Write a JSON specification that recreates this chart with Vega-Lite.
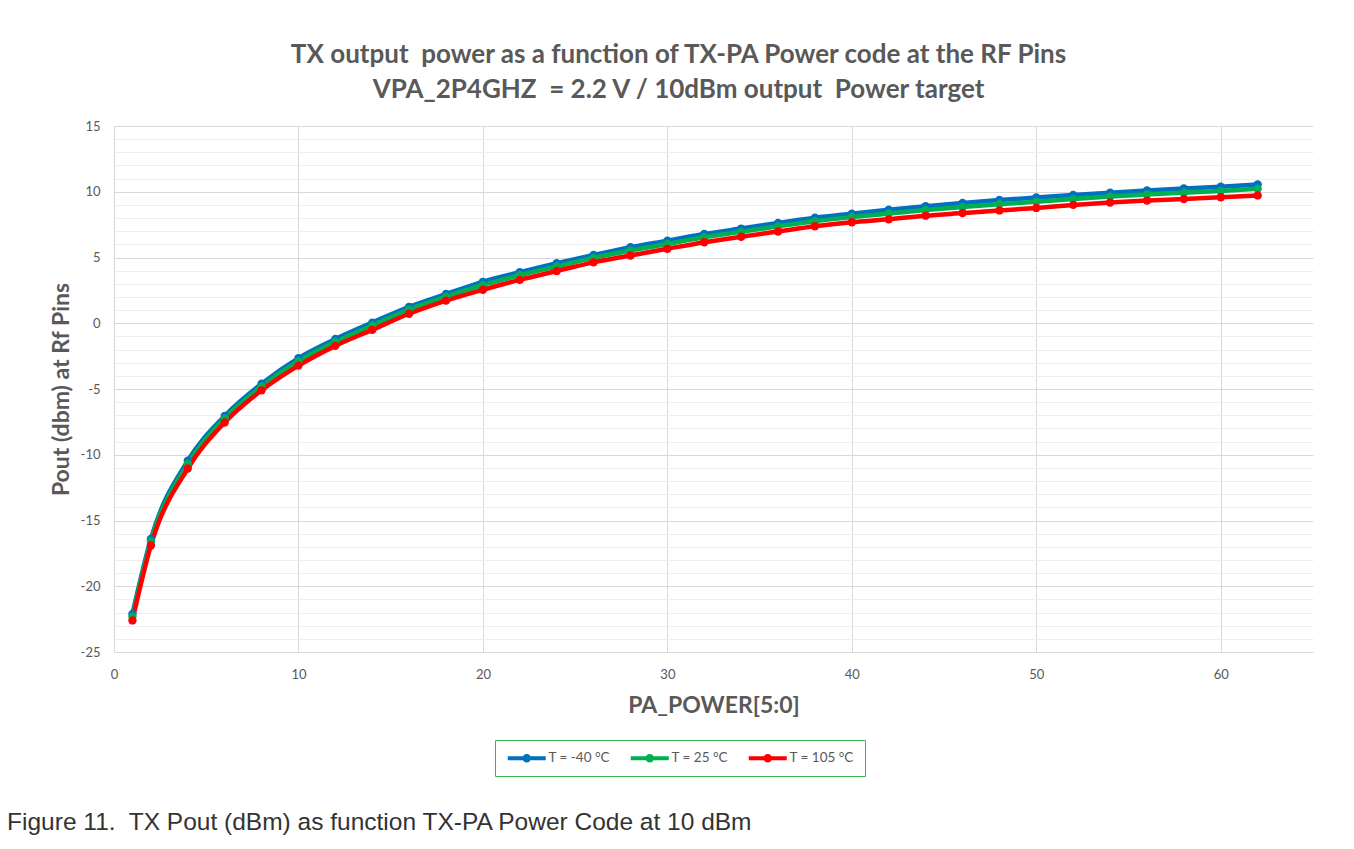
{
  "$schema": "https://vega.github.io/schema/vega-lite/v6.json",
  "background": "white",
  "padding": {"left": 7, "top": 42, "right": 42, "bottom": 14},
  "title": {
    "text": "Figure 11.\u00a0 TX Pout (dBm) as function TX-PA Power Code at 10 dBm",
    "orient": "bottom",
    "anchor": "start",
    "frame": "bounds",
    "dx": -43,
    "offset": 34,
    "font": "Liberation Sans",
    "fontSize": 24.5,
    "fontWeight": "normal",
    "color": "#333333"
  },
  "vconcat": [
    {
      "width": 1199,
      "height": 526,
      "title": {
        "text": ["TX output\u00a0 power as a function of TX-PA Power code at the RF Pins", "VPA_2P4GHZ\u00a0 = 2.2 V / 10dBm output\u00a0 Power target"],
        "anchor": "middle",
        "frame": "group",
        "dx": -35,
        "offset": 17,
        "font": "Lato",
        "fontSize": 26,
        "fontWeight": "bold",
        "color": "#595959",
        "lineHeight": 35
      },
      "data": {
        "values": [
          {"code": 1, "T": "T = -40 °C", "pout": -22.1},
          {"code": 2, "T": "T = -40 °C", "pout": -16.4},
          {"code": 4, "T": "T = -40 °C", "pout": -10.45},
          {"code": 6, "T": "T = -40 °C", "pout": -7.05},
          {"code": 8, "T": "T = -40 °C", "pout": -4.6},
          {"code": 10, "T": "T = -40 °C", "pout": -2.65},
          {"code": 12, "T": "T = -40 °C", "pout": -1.2},
          {"code": 14, "T": "T = -40 °C", "pout": 0.05},
          {"code": 16, "T": "T = -40 °C", "pout": 1.25},
          {"code": 18, "T": "T = -40 °C", "pout": 2.22},
          {"code": 20, "T": "T = -40 °C", "pout": 3.15},
          {"code": 22, "T": "T = -40 °C", "pout": 3.88},
          {"code": 24, "T": "T = -40 °C", "pout": 4.56},
          {"code": 26, "T": "T = -40 °C", "pout": 5.19},
          {"code": 28, "T": "T = -40 °C", "pout": 5.78},
          {"code": 30, "T": "T = -40 °C", "pout": 6.28},
          {"code": 32, "T": "T = -40 °C", "pout": 6.79},
          {"code": 34, "T": "T = -40 °C", "pout": 7.2},
          {"code": 36, "T": "T = -40 °C", "pout": 7.63},
          {"code": 38, "T": "T = -40 °C", "pout": 8.02},
          {"code": 40, "T": "T = -40 °C", "pout": 8.33},
          {"code": 42, "T": "T = -40 °C", "pout": 8.63},
          {"code": 44, "T": "T = -40 °C", "pout": 8.9},
          {"code": 46, "T": "T = -40 °C", "pout": 9.15},
          {"code": 48, "T": "T = -40 °C", "pout": 9.37},
          {"code": 50, "T": "T = -40 °C", "pout": 9.56},
          {"code": 52, "T": "T = -40 °C", "pout": 9.75},
          {"code": 54, "T": "T = -40 °C", "pout": 9.93},
          {"code": 56, "T": "T = -40 °C", "pout": 10.1},
          {"code": 58, "T": "T = -40 °C", "pout": 10.25},
          {"code": 60, "T": "T = -40 °C", "pout": 10.38},
          {"code": 62, "T": "T = -40 °C", "pout": 10.55},
          {"code": 1, "T": "T = 25 °C", "pout": -22.3},
          {"code": 2, "T": "T = 25 °C", "pout": -16.6},
          {"code": 4, "T": "T = 25 °C", "pout": -10.7},
          {"code": 6, "T": "T = 25 °C", "pout": -7.25},
          {"code": 8, "T": "T = 25 °C", "pout": -4.8},
          {"code": 10, "T": "T = 25 °C", "pout": -2.88},
          {"code": 12, "T": "T = 25 °C", "pout": -1.41},
          {"code": 14, "T": "T = 25 °C", "pout": -0.17},
          {"code": 16, "T": "T = 25 °C", "pout": 1.04},
          {"code": 18, "T": "T = 25 °C", "pout": 2.02},
          {"code": 20, "T": "T = 25 °C", "pout": 2.91},
          {"code": 22, "T": "T = 25 °C", "pout": 3.65},
          {"code": 24, "T": "T = 25 °C", "pout": 4.32},
          {"code": 26, "T": "T = 25 °C", "pout": 4.97},
          {"code": 28, "T": "T = 25 °C", "pout": 5.53},
          {"code": 30, "T": "T = 25 °C", "pout": 6.03},
          {"code": 32, "T": "T = 25 °C", "pout": 6.54},
          {"code": 34, "T": "T = 25 °C", "pout": 6.95},
          {"code": 36, "T": "T = 25 °C", "pout": 7.37},
          {"code": 38, "T": "T = 25 °C", "pout": 7.76},
          {"code": 40, "T": "T = 25 °C", "pout": 8.07},
          {"code": 42, "T": "T = 25 °C", "pout": 8.34},
          {"code": 44, "T": "T = 25 °C", "pout": 8.61},
          {"code": 46, "T": "T = 25 °C", "pout": 8.84},
          {"code": 48, "T": "T = 25 °C", "pout": 9.05},
          {"code": 50, "T": "T = 25 °C", "pout": 9.24},
          {"code": 52, "T": "T = 25 °C", "pout": 9.45},
          {"code": 54, "T": "T = 25 °C", "pout": 9.63},
          {"code": 56, "T": "T = 25 °C", "pout": 9.79},
          {"code": 58, "T": "T = 25 °C", "pout": 9.93},
          {"code": 60, "T": "T = 25 °C", "pout": 10.06},
          {"code": 62, "T": "T = 25 °C", "pout": 10.22},
          {"code": 1, "T": "T = 105 °C", "pout": -22.6},
          {"code": 2, "T": "T = 105 °C", "pout": -16.9},
          {"code": 4, "T": "T = 105 °C", "pout": -11.05},
          {"code": 6, "T": "T = 105 °C", "pout": -7.55},
          {"code": 8, "T": "T = 105 °C", "pout": -5.1},
          {"code": 10, "T": "T = 105 °C", "pout": -3.22},
          {"code": 12, "T": "T = 105 °C", "pout": -1.72},
          {"code": 14, "T": "T = 105 °C", "pout": -0.5},
          {"code": 16, "T": "T = 105 °C", "pout": 0.72},
          {"code": 18, "T": "T = 105 °C", "pout": 1.72},
          {"code": 20, "T": "T = 105 °C", "pout": 2.55},
          {"code": 22, "T": "T = 105 °C", "pout": 3.3},
          {"code": 24, "T": "T = 105 °C", "pout": 3.97},
          {"code": 26, "T": "T = 105 °C", "pout": 4.63},
          {"code": 28, "T": "T = 105 °C", "pout": 5.15},
          {"code": 30, "T": "T = 105 °C", "pout": 5.66},
          {"code": 32, "T": "T = 105 °C", "pout": 6.16},
          {"code": 34, "T": "T = 105 °C", "pout": 6.58},
          {"code": 36, "T": "T = 105 °C", "pout": 6.98},
          {"code": 38, "T": "T = 105 °C", "pout": 7.38},
          {"code": 40, "T": "T = 105 °C", "pout": 7.68},
          {"code": 42, "T": "T = 105 °C", "pout": 7.9},
          {"code": 44, "T": "T = 105 °C", "pout": 8.18},
          {"code": 46, "T": "T = 105 °C", "pout": 8.38},
          {"code": 48, "T": "T = 105 °C", "pout": 8.58},
          {"code": 50, "T": "T = 105 °C", "pout": 8.77},
          {"code": 52, "T": "T = 105 °C", "pout": 9.0},
          {"code": 54, "T": "T = 105 °C", "pout": 9.18},
          {"code": 56, "T": "T = 105 °C", "pout": 9.33},
          {"code": 58, "T": "T = 105 °C", "pout": 9.45},
          {"code": 60, "T": "T = 105 °C", "pout": 9.58},
          {"code": 62, "T": "T = 105 °C", "pout": 9.72}
        ]
      },
      "mark": {
        "type": "line",
        "strokeWidth": 4.5,
        "interpolate": "monotone",
        "point": {"filled": true, "size": 70, "opacity": 1}
      },
      "encoding": {
        "x": {
          "field": "code",
          "type": "quantitative",
          "scale": {"domain": [0, 65], "nice": false, "zero": false},
          "axis": {
            "values": [0, 10, 20, 30, 40, 50, 60],
            "title": "PA_POWER[5:0]",
            "grid": true,
            "gridColor": "#d9d9d9",
            "gridWidth": 1,
            "ticks": false,
            "domainColor": "#d9d9d9",
            "domainWidth": 1,
            "labelFont": "Lato",
            "labelFontSize": 13,
            "labelColor": "#595959",
            "labelPadding": 16,
            "labelFlush": false,
            "titleFont": "Lato",
            "titleFontSize": 23,
            "titleFontWeight": "bold",
            "titleColor": "#595959",
            "titlePadding": 13
          }
        },
        "y": {
          "field": "pout",
          "type": "quantitative",
          "scale": {"domain": [-25, 15], "nice": false, "zero": false},
          "axis": {
            "values": [-25, -24, -23, -22, -21, -20, -19, -18, -17, -16, -15, -14, -13, -12, -11, -10, -9, -8, -7, -6, -5, -4, -3, -2, -1, 0, 1, 2, 3, 4, 5, 6, 7, 8, 9, 10, 11, 12, 13, 14, 15],
            "labelExpr": "datum.value % 5 === 0 ? '' + datum.value : ''",
            "labelOverlap": false,
            "labelFlush": false,
            "title": "Pout (dbm) at Rf Pins",
            "grid": true,
            "gridColor": {"condition": {"test": "datum.value % 5 === 0", "value": "#d9d9d9"}, "value": "#efefef"},
            "gridWidth": 1,
            "ticks": false,
            "domainColor": "#d9d9d9",
            "domainWidth": 1,
            "labelFont": "Lato",
            "labelFontSize": 13,
            "labelColor": "#595959",
            "labelPadding": 14,
            "titleFont": "Lato",
            "titleFontSize": 23,
            "titleFontWeight": "bold",
            "titleColor": "#595959",
            "titlePadding": 7
          }
        },
        "color": {
          "field": "T",
          "type": "nominal",
          "scale": {
            "domain": ["T = -40 °C", "T = 25 °C", "T = 105 °C"],
            "range": ["#0070C0", "#00B050", "#FF0000"]
          },
          "legend": {
            "title": null,
            "orient": "none",
            "legendX": 381,
            "legendY": 614,
            "direction": "horizontal",
            "columns": 3,
            "symbolType": "M-3.8,-0.4L3.8,-0.4L3.8,0.4L-3.8,0.4Z M0.85,0A0.85,0.85,0,1,1,-0.85,0A0.85,0.85,0,1,1,0.85,0Z",
            "symbolSize": 100,
            "symbolOffset": 14,
            "symbolStrokeWidth": 0,
            "labelOffset": 15,
            "columnPadding": 19,
            "padding": 11,
            "strokeColor": "#3cb64a",
            "fillColor": "white",
            "labelFont": "Lato",
            "labelFontSize": 13.5,
            "labelColor": "#595959",
            "encode": {
              "symbols": {
                "update": {
                  "fill": {"scale": "color", "field": "value"},
                  "fillOpacity": {"value": 1},
                  "opacity": {"value": 1}
                }
              }
            }
          }
        }
      }
    }
  ],
  "config": {
    "view": {"stroke": null},
    "font": "Lato"
  }
}
